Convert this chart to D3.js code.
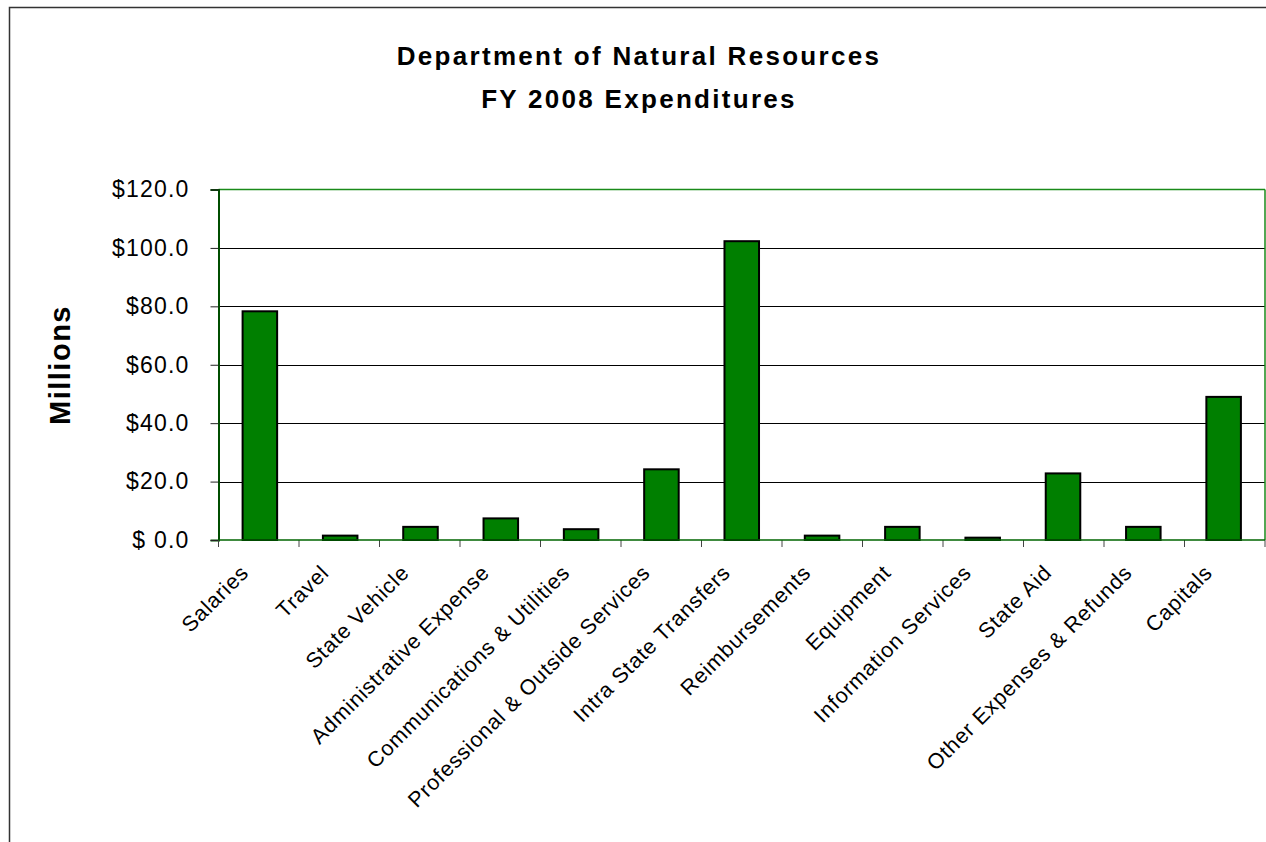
<!DOCTYPE html>
<html>
<head>
<meta charset="utf-8">
<script src="https://cdn.jsdelivr.net/npm/d3@7"></script>
<style>
  body { margin: 0; background: #fff; }
  svg { display: block; font-family: Arial, "Liberation Sans", sans-serif; }
</style>
</head>
<body>
<svg id="chart"></svg>
<script>
// categories and values (millions of dollars)
var categories = ["Salaries", "Travel", "State Vehicle", "Administrative Expense",
  "Communications & Utilities", "Professional & Outside Services", "Intra State Transfers",
  "Reimbursements", "Equipment", "Information Services", "State Aid",
  "Other Expenses & Refunds", "Capitals"];
var values = [78.3, 1.5, 4.5, 7.4, 3.7, 24.2, 102.3, 1.5, 4.5, 0.8, 22.8, 4.5, 49.0];
var yTicks = [0, 20, 40, 60, 80, 100, 120];

var W = 1266, H = 842;
var svg = d3.select("#chart").attr("width", W).attr("height", H);

// outer chart border
svg.append("rect")
  .attr("x", 9.5).attr("y", 7.5)
  .attr("width", W + 20).attr("height", H + 20)
  .attr("fill", "none").attr("stroke", "#333").attr("stroke-width", 1.5);

var plotL = 218.5, plotR = 1265, plotT = 189.5, plotB = 540;

var x = d3.scaleBand().domain(categories).range([plotL, plotR]).paddingInner(0.57).paddingOuter(0.3);
var y = d3.scaleLinear().domain([0, 120]).range([plotB, plotT]);

// gridlines
svg.append("g").selectAll("line").data(yTicks.slice(1, -1)).join("line")
  .attr("x1", plotL).attr("x2", plotR)
  .attr("y1", function(d){ return Math.round(y(d)) + 0.5; })
  .attr("y2", function(d){ return Math.round(y(d)) + 0.5; })
  .attr("stroke", "#000").attr("stroke-width", 1);

// plot border top / right
svg.append("line").attr("x1", plotL).attr("x2", plotR).attr("y1", plotT).attr("y2", plotT)
  .attr("stroke", "#1a8a1a").attr("stroke-width", 1.5);
svg.append("line").attr("x1", plotR).attr("x2", plotR).attr("y1", plotT).attr("y2", plotB)
  .attr("stroke", "#1a8a1a").attr("stroke-width", 1.5);

// y axis
var yAxis = d3.axisLeft(y).tickValues(yTicks).tickSize(8).tickPadding(21)
  .tickFormat(function(d){ return d === 0 ? "$ 0.0" : "$" + d3.format(".1f")(d); });
var gy = svg.append("g").attr("transform", "translate(" + plotL + ",0)").call(yAxis);
gy.select(".domain").attr("stroke", "#004d00").attr("stroke-width", 2);
gy.selectAll(".tick line").attr("stroke", "#222");
gy.selectAll("text").attr("font-size", 23).attr("fill", "#000")
  .attr("letter-spacing", 1.2)
  .attr("font-family", "Arial, 'Liberation Sans', sans-serif");

// x axis ticks at category boundaries
var bounds = d3.range(categories.length + 1).map(function(i){ return plotL + i * (plotR - plotL) / categories.length; });
svg.append("g").selectAll("line").data(bounds).join("line")
  .attr("x1", function(d){ return d; }).attr("x2", function(d){ return d; })
  .attr("y1", plotB).attr("y2", plotB + 7)
  .attr("stroke", "#444").attr("stroke-width", 1);

// bars
svg.append("g").selectAll("rect").data(values).join("rect")
  .attr("x", function(d, i){ return x(categories[i]); })
  .attr("y", function(d){ return y(d); })
  .attr("width", x.bandwidth())
  .attr("height", function(d){ return plotB - y(d); })
  .attr("fill", "#007f00").attr("stroke", "#000").attr("stroke-width", 2);

// bottom axis line
svg.append("line").attr("x1", plotL).attr("x2", plotR).attr("y1", plotB).attr("y2", plotB)
  .attr("stroke", "#006400").attr("stroke-width", 1.5);

// x labels
svg.append("g").selectAll("text").data(categories).join("text")
  .attr("transform", function(d){
    var cx = x(d) + x.bandwidth() / 2;
    return "translate(" + (cx - 10) + "," + (plotB + 34) + ") rotate(-45)";
  })
  .attr("text-anchor", "end")
  .attr("font-size", 21.5)
  .attr("letter-spacing", 0.8)
  .text(function(d){ return d; });

// y axis title
svg.append("text")
  .attr("transform", "translate(70,365) rotate(-90)")
  .attr("text-anchor", "middle")
  .attr("font-size", 29).attr("font-weight", "bold")
  .attr("letter-spacing", 1.5)
  .text("Millions");

// title
svg.append("text").attr("x", 639).attr("y", 65)
  .attr("text-anchor", "middle").attr("font-size", 26).attr("font-weight", "bold")
  .attr("letter-spacing", 2.3)
  .text("Department of Natural Resources");
svg.append("text").attr("x", 639).attr("y", 108)
  .attr("text-anchor", "middle").attr("font-size", 26).attr("font-weight", "bold")
  .attr("letter-spacing", 2.3)
  .text("FY 2008 Expenditures");
</script>
</body>
</html>
